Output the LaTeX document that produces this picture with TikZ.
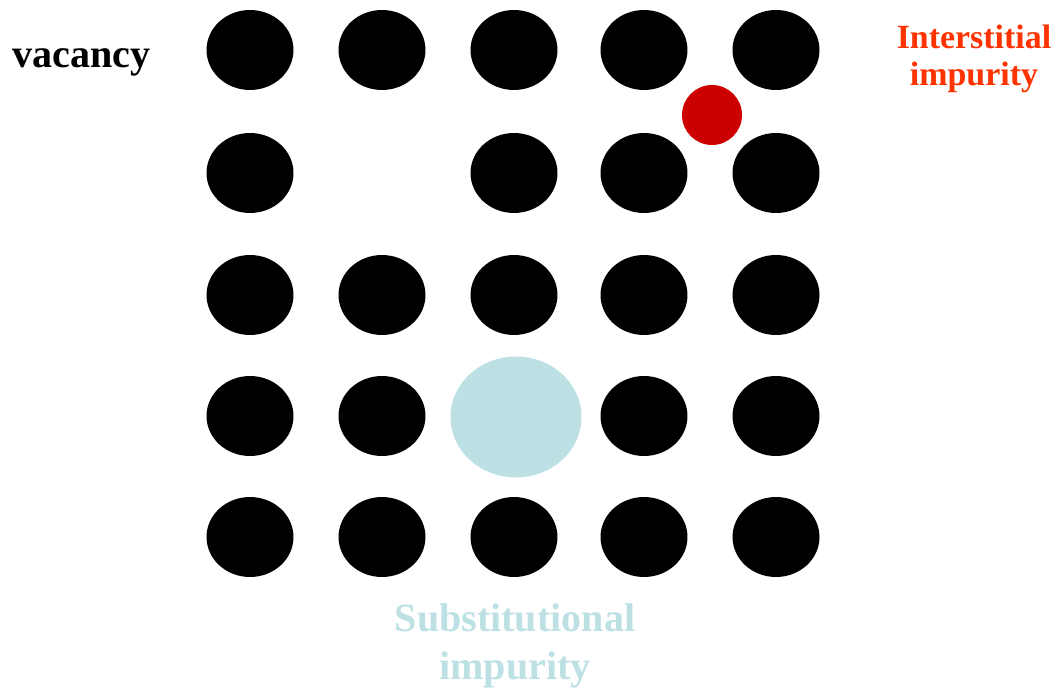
\documentclass[tikz,border=0pt]{standalone}
\usepackage{fontspec}
\setmainfont{Liberation Serif}
\usepackage{xcolor}
\usepackage{tikz}
\usetikzlibrary{shapes.geometric}
\definecolor{interred}{RGB}{204,0,0}
\definecolor{interlabel}{RGB}{255,51,0}
\definecolor{substblue}{RGB}{188,224,227}

\begin{document}
\begin{tikzpicture}[x=0.02cm, y=-0.02cm,
    atom/.style={ellipse, fill=black, minimum width=1.74cm, minimum height=1.6cm, inner sep=0pt},
    inter/.style={circle, fill=interred, minimum size=1.2cm, inner sep=0pt},
    subst/.style={ellipse, fill=substblue, minimum width=2.62cm, minimum height=2.42cm, inner sep=0pt},
    biglbl/.style={font=\bfseries\fontsize{22.8}{26.8}\selectfont, align=center, inner sep=0pt},
    smalllbl/.style={font=\bfseries\fontsize{19.3}{21.2}\selectfont, align=center, inner sep=0pt}]
  \useasboundingbox (0,0) rectangle (1055,689);

  % host lattice, with the empty site left out
  \foreach \r/\y in {1/50,2/173,3/295,4/416,5/537}
    \foreach \c/\x in {1/250,2/382,3/514,4/644,5/776}{
      \ifnum\r\c=22 \else\ifnum\r\c=43 \else
        \node[atom] (atom\r\c) at (\x,\y) {};
      \fi\fi
    }

  % defects
  \node[subst] (subatom) at (516,417) {};
  \node[inter] (interatom) at (712,115) {};

  % labels (base = last line)
  \node[biglbl, anchor=base west] (vac) at (12,68) {vacancy};
  \node[smalllbl, text=interlabel, anchor=base] (interlbl) at (974,86) {Interstitial\\impurity};
  \node[biglbl, text=substblue, anchor=base] (sublbl) at (515,679) {Substitutional\\impurity};
\end{tikzpicture}
\end{document}
